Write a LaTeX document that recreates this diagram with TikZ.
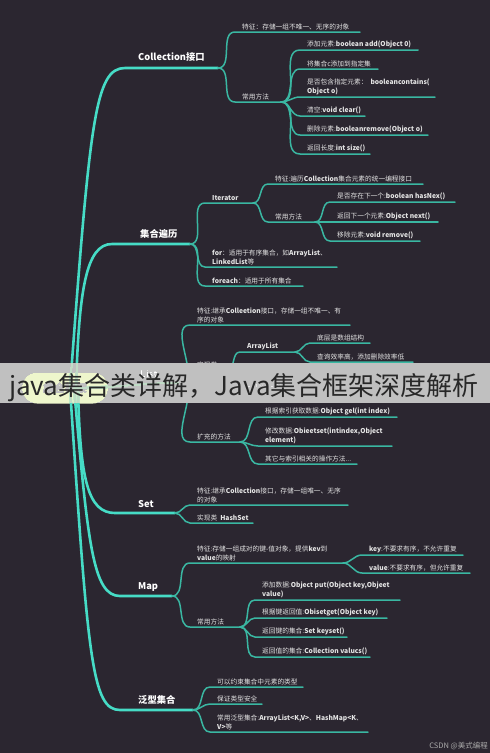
\documentclass[tikz,border=0pt]{standalone}
\usepackage{fontspec}
\setmainfont{Noto Sans CJK SC}
\definecolor{bg}{HTML}{2B2630}
\definecolor{trunk}{HTML}{46DCC6}
\definecolor{branch}{HTML}{3AB7A2}
\definecolor{txtc}{HTML}{E4E4E4}
\definecolor{rootfill}{HTML}{EEF6CC}
\newcommand\lb[1]{{\bfseries #1}}
\tikzset{
  trunkline/.style={draw=trunk, line width=2.6pt, line cap=round},
  branchline/.style={draw=branch, line width=1.5pt, line cap=round},
  maintext/.style={text=white, font=\bfseries\fontsize{9.3}{10}\selectfont, inner sep=0pt, anchor=base west},
  subtext/.style={text=txtc, font=\fontsize{6.7}{8.6}\selectfont, inner sep=0pt, anchor=south west, align=left},
}
\newcommand\leafnode[6]{%
  \coordinate (#6s) at (#2,#3);
  \coordinate (#6e) at (#4,#3);
  \node[subtext] (#6) at (#2+7,#3-2) {#5};
  \draw[branchline] (#1) to[out=0,in=180] (#6s) -- (#6e);
}
\begin{document}
\begin{tikzpicture}[x=1pt,y=-1pt]
\useasboundingbox (0,0) rectangle (490,753);
\fill[bg] (0,0) rectangle (490,753);

% root
\node[fill=rootfill, rounded corners=15pt, minimum width=86pt, minimum height=31pt, inner sep=0pt,
      text={rgb,255:red,70;green,70;blue,70}, font=\bfseries\fontsize{11}{12}\selectfont] (root) at (65,388) {集合框架};

% split points of main branches
\coordinate (cS) at (218,68);
\coordinate (tS) at (190,244);
\coordinate (lS) at (180,383);
\coordinate (sS) at (175,513);
\coordinate (mS) at (172,596);
\coordinate (gS) at (193,710);

% trunks
\draw[trunkline] ([xshift=5pt]root.center) .. controls (90,120) and (95,68) .. (125,68) -- (cS);
\draw[trunkline] ([xshift=11pt]root.center) .. controls (79,290) and (86,244) .. (112,244) -- (tS);
\draw[trunkline] ([xshift=9pt]root.center) to[out=0,in=180] (lS);
\draw[trunkline] ([xshift=13pt]root.center) .. controls (80,480) and (88,513) .. (115,513) -- (sS);
\draw[trunkline] ([xshift=9pt]root.center) .. controls (88,545) and (93,596) .. (120,596) -- (mS);
\draw[trunkline] ([xshift=5pt]root.center) .. controls (88,660) and (92,710) .. (120,710) -- (gS);

% main labels
\node[maintext] (coll) at (138,60) {Collection接口};
\node[maintext] (trav) at (140,237) {集合遍历};
\node[maintext] (list) at (140,377) {List};
\node[maintext] (set) at (138,507) {Set};
\node[maintext] (map) at (138,589) {Map};
\node[maintext] (gen) at (138,703) {泛型集合};

% Collection
\leafnode{cS}{235}{32}{360}{特征：存储一组不唯一、无序的对象}{ca}
\leafnode{cS}{235}{102}{281}{常用方法}{cb}
\leafnode{cbe}{300}{50}{418}{添加元素:\lb{boolean add(Object 0)}}{cb1}
\leafnode{cbe}{300}{69}{378}{将集合c添加到指定集}{cb2}
\leafnode{cbe}{300}{97}{435}{是否包含指定元素：\ \ \lb{booleancontains(}\\\lb{Object o)}}{cb3}
\leafnode{cbe}{300}{116}{365}{清空:\lb{void clear()}}{cb4}
\leafnode{cbe}{300}{135}{428}{删除元素:\lb{booleanremove(Object o)}}{cb5}
\leafnode{cbe}{300}{154}{370}{返回长度:\lb{int size()}}{cb6}

% traversal
\leafnode{tS}{205}{203}{253}{\lb{Iterator}}{ta}
\leafnode{tae}{268}{184}{423}{特征:遍历\lb{Collection}集合元素的统一编程接口}{ta1}
\leafnode{tae}{268}{222}{315}{常用方法}{ta2}
\leafnode{ta2e}{330}{202}{455}{是否存在下一个:\lb{boolean hasNex()}}{ta21}
\leafnode{ta2e}{330}{222}{438}{返回下一个元素:\lb{Object next()}}{ta22}
\leafnode{ta2e}{330}{241}{420}{移除元素:\lb{void remove()}}{ta23}
\leafnode{tS}{205}{267}{337}{\lb{for}：适用于有序集合，如\lb{ArrayList}、\\\lb{LinkedList}等}{tb}
\leafnode{tS}{205}{286}{303}{\lb{foreach}：适用于所有集合}{tc}

% List
\leafnode{lS}{190}{325}{350}{特征:继承\lb{Colleetion}接口，存储一组不唯一、有\\序的对象}{la}
\leafnode{lS}{190}{370}{227}{实现类}{lb}
\leafnode{lbe}{240}{352}{295}{\lb{ArrayList}}{lb1}
\leafnode{lb1e}{310}{343}{370}{底层是数组结构}{lb11}
\leafnode{lb1e}{310}{362}{413}{查询效率高，添加删除效率低}{lb12}
\leafnode{lbe}{240}{390}{295}{\lb{LinkedList}}{lb2}
\leafnode{lb2e}{310}{381}{370}{底层是链表结构}{lb21}
\leafnode{lb2e}{310}{399}{465}{插入、删除效率高，查询效率低}{lb22}
\leafnode{lS}{190}{442}{240}{扩充的方法}{lc}
\leafnode{lce}{258}{417}{397}{根据索引获取数据:\lb{Object gel(int index)}}{lc1}
\leafnode{lce}{258}{446}{392}{修改数据:\lb{Obieetset(intindex,Object}\\\lb{element)}}{lc2}
\leafnode{lce}{258}{464}{357}{其它与索引相关的操作方法...}{lc3}

% Set
\leafnode{sS}{190}{505}{348}{特征:继承\lb{Collection}接口，存储一组唯一、无序\\的对象}{sa}
\leafnode{sS}{190}{523}{253}{实现类\ \ \lb{HashSet}}{sb}

% Map
\leafnode{mS}{190}{563}{343}{特征:存储一组成对的键-值对象，提供\lb{kev}到\\\lb{value}的映射}{ma}
\leafnode{mae}{362}{555}{463}{\lb{key}:不要求有序，不允许重复}{ma1}
\leafnode{mae}{362}{573}{470}{\lb{value}:不要求有序，但允许重复}{ma2}
\leafnode{mS}{190}{627}{240}{常用方法}{mb}
\leafnode{mbe}{255}{600}{400}{添加数据:\lb{Object put(Object key,Objeet}\\\lb{value)}}{mb1}
\leafnode{mbe}{255}{618}{387}{根据键返回值:\lb{Obisetget(Object key)}}{mb2}
\leafnode{mbe}{255}{637}{347}{返回键的集合:\lb{Set keyset()}}{mb3}
\leafnode{mbe}{255}{657}{370}{返回值的集合:\lb{Collection valucs()}}{mb4}

% Generics
\leafnode{gS}{210}{687}{303}{可以约束集合中元素的类型}{ga}
\leafnode{gS}{210}{704}{262}{保证类型安全}{gb}
\leafnode{gS}{210}{732}{368}{常用泛型集合:\lb{ArrayList<K,V>}、\lb{HashMap<K}、\\\lb{V>}等}{gc}

% watermark band (lighten blend: bright content stays visible)
\fill[fill={rgb,255:red,192;green,192;blue,192}, blend mode=lighten] (0,363) rectangle (490,403);
\node[anchor=base west, inner sep=0pt, text={rgb,255:red,40;green,40;blue,40},
      font=\fontsize{26}{28}\selectfont] (wm) at (9,395) {java集合类详解，Java集合框架深度解析};

\node[anchor=east, inner sep=0pt, text={rgb,255:red,170;green,170;blue,170}, font=\fontsize{7.5}{8}\selectfont] (csdn) at (488,746) {CSDN @美式编程};
\end{tikzpicture}
\end{document}
